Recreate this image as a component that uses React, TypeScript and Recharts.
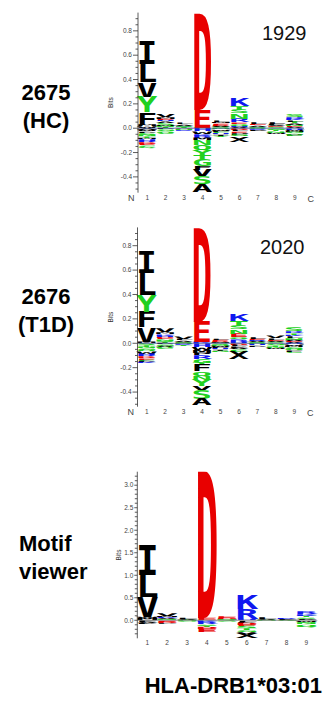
import { BarChart, Bar, XAxis, YAxis, ReferenceLine } from 'recharts';

type Stack = [string, number][];

const positions = ['1', '2', '3', '4', '5', '6', '7', '8', '9'];

// 2675 (HC), 1929 peptides. "up" stacks read from the top of the column down to 0,
// "down" stacks read from 0 downwards. Values in bits.
const hcUp: Stack[] = [
  [['I', 0.19], ['L', 0.15], ['V', 0.12], ['Y', 0.13], ['F', 0.1], ['M', 0.015], ['W', 0.015]],
  [['V', 0.025], ['M', 0.015], ['E', 0.012], ['H', 0.01], ['A', 0.012], ['S', 0.015], ['W', 0.008], ['N', 0.012], ['T', 0.01]],
  [['L', 0.012], ['A', 0.01], ['S', 0.008], ['K', 0.006], ['T', 0.008]],
  [['D', 0.795], ['E', 0.145], ['Q', 0.005]],
  [['L', 0.012], ['M', 0.008], ['E', 0.01], ['D', 0.008], ['A', 0.01], ['G', 0.006], ['S', 0.006]],
  [['K', 0.06], ['T', 0.03], ['S', 0.03], ['N', 0.045], ['R', 0.03], ['E', 0.012], ['Q', 0.015], ['H', 0.01], ['A', 0.01]],
  [['L', 0.015], ['E', 0.008], ['A', 0.01], ['S', 0.008], ['K', 0.005]],
  [['L', 0.015], ['F', 0.01], ['A', 0.008], ['E', 0.006], ['S', 0.01]],
  [['S', 0.025], ['R', 0.015], ['K', 0.01], ['L', 0.012], ['T', 0.015], ['A', 0.012], ['N', 0.012], ['E', 0.008], ['V', 0.008]],
];
const hcDown: Stack[] = [
  [['A', 0.015], ['W', 0.012], ['P', 0.01], ['S', 0.015], ['N', 0.015], ['T', 0.012], ['M', 0.01], ['H', 0.015], ['R', 0.012], ['D', 0.015], ['E', 0.01], ['C', 0.012], ['Q', 0.008]],
  [['P', 0.01], ['G', 0.015], ['Q', 0.012], ['C', 0.008]],
  [['D', 0.005], ['N', 0.008], ['R', 0.006]],
  [['H', 0.025], ['W', 0.02], ['K', 0.015], ['R', 0.02], ['M', 0.02], ['N', 0.04], ['Q', 0.04], ['Y', 0.04], ['T', 0.04], ['G', 0.05], ['F', 0.035], ['V', 0.05], ['S', 0.065], ['A', 0.065]],
  [['N', 0.01], ['W', 0.01], ['P', 0.012], ['C', 0.01], ['H', 0.008], ['I', 0.01], ['Y', 0.01]],
  [['D', 0.015], ['L', 0.012], ['E', 0.01], ['P', 0.015], ['G', 0.015], ['X', 0.045]],
  [['Q', 0.008], ['R', 0.006], ['P', 0.008]],
  [['G', 0.012], ['T', 0.012], ['N', 0.012], ['W', 0.01]],
  [['H', 0.012], ['W', 0.01], ['M', 0.008], ['G', 0.012], ['Q', 0.01], ['F', 0.01], ['C', 0.006]],
];

// 2676 (T1D), 2020 peptides
const t1dUp: Stack[] = [
  [['I', 0.175], ['L', 0.18], ['Y', 0.135], ['F', 0.125], ['V', 0.12], ['M', 0.013]],
  [['V', 0.03], ['M', 0.015], ['K', 0.012], ['H', 0.01], ['D', 0.01], ['E', 0.008], ['N', 0.012], ['S', 0.012], ['T', 0.01]],
  [['V', 0.02], ['L', 0.012], ['A', 0.01], ['S', 0.008], ['E', 0.006]],
  [['D', 0.765], ['E', 0.165], ['K', 0.013]],
  [['L', 0.01], ['E', 0.01], ['D', 0.008], ['M', 0.006], ['A', 0.006]],
  [['K', 0.055], ['T', 0.04], ['S', 0.03], ['N', 0.035], ['E', 0.03], ['Q', 0.015], ['R', 0.02], ['H', 0.013]],
  [['L', 0.015], ['E', 0.01], ['R', 0.008], ['A', 0.01], ['S', 0.008]],
  [['V', 0.02], ['L', 0.012], ['E', 0.008], ['A', 0.01], ['S', 0.01]],
  [['S', 0.03], ['R', 0.015], ['T', 0.012], ['K', 0.01], ['L', 0.015], ['N', 0.015], ['A', 0.012], ['E', 0.008], ['V', 0.01]],
];
const t1dDown: Stack[] = [
  [['S', 0.015], ['T', 0.015], ['N', 0.012], ['G', 0.012], ['Q', 0.01], ['W', 0.02], ['H', 0.012], ['R', 0.012], ['D', 0.015], ['E', 0.012], ['C', 0.01], ['P', 0.01], ['K', 0.01]],
  [['P', 0.01], ['G', 0.012], ['A', 0.01], ['Q', 0.01], ['C', 0.006]],
  [['N', 0.008], ['R', 0.006], ['T', 0.008]],
  [['H', 0.03], ['W', 0.025], ['M', 0.025], ['P', 0.02], ['R', 0.03], ['G', 0.03], ['T', 0.02], ['F', 0.05], ['Q', 0.035], ['N', 0.035], ['Y', 0.05], ['V', 0.035], ['S', 0.07], ['A', 0.05]],
  [['S', 0.012], ['N', 0.01], ['W', 0.01], ['P', 0.01], ['H', 0.008], ['I', 0.01], ['G', 0.01]],
  [['D', 0.012], ['L', 0.012], ['P', 0.012], ['A', 0.012], ['G', 0.02], ['X', 0.065]],
  [['Q', 0.01], ['H', 0.008], ['P', 0.01]],
  [['G', 0.015], ['T', 0.012], ['N', 0.012], ['W', 0.01]],
  [['H', 0.01], ['W', 0.012], ['M', 0.01], ['G', 0.015], ['Q', 0.012], ['F', 0.012], ['C', 0.008]],
];

// Motif viewer, HLA-DRB1*03:01
const viewerUp: Stack[] = [
  [['I', 0.67], ['L', 0.48], ['V', 0.44], ['W', 0.03], ['M', 0.05]],
  [['V', 0.06], ['M', 0.02], ['K', 0.02], ['A', 0.02], ['S', 0.015], ['N', 0.015]],
  [['L', 0.03], ['A', 0.02], ['T', 0.01]],
  [['D', 3.25], ['E', 0.05]],
  [['E', 0.04], ['D', 0.03], ['Q', 0.02], ['M', 0.01]],
  [['K', 0.31], ['R', 0.22], ['H', 0.03]],
  [['L', 0.04], ['A', 0.02], ['S', 0.01]],
  [['R', 0.02], ['L', 0.02], ['A', 0.01]],
  [['R', 0.06], ['K', 0.04], ['T', 0.03], ['S', 0.03], ['L', 0.02], ['A', 0.015]],
];
const viewerDown: Stack[] = [
  [['F', 0.04], ['A', 0.03], ['P', 0.02]],
  [['E', 0.03], ['D', 0.04], ['P', 0.015]],
  [['N', 0.02], ['G', 0.015]],
  [['K', 0.04], ['R', 0.05], ['S', 0.03], ['T', 0.03], ['D', 0.05], ['E', 0.07]],
  [['S', 0.015], ['G', 0.015]],
  [['L', 0.03], ['P', 0.02], ['D', 0.05], ['E', 0.03], ['S', 0.05], ['T', 0.04], ['G', 0.04], ['V', 0.04], ['X', 0.1]],
  [['N', 0.015]],
  [['G', 0.02]],
  [['W', 0.03], ['Y', 0.02], ['N', 0.04], ['Q', 0.05], ['G', 0.015]],
];

const smallTicks = [
  -0.5, -0.45, -0.4, -0.35, -0.3, -0.25, -0.2, -0.15, -0.1, -0.05, 0, 0.05, 0.1, 0.15,
  0.2, 0.25, 0.3, 0.35, 0.4, 0.45, 0.5, 0.55, 0.6, 0.65, 0.7, 0.75, 0.8, 0.85, 0.9,
];
const viewerTicks = [
  -0.3, -0.2, -0.1, 0, 0.1, 0.2, 0.3, 0.4, 0.5, 0.6, 0.7, 0.8, 0.9, 1.0, 1.1, 1.2, 1.3, 1.4,
  1.5, 1.6, 1.7, 1.8, 1.9, 2.0, 2.1, 2.2, 2.3, 2.4, 2.5, 2.6, 2.7, 2.8, 2.9, 3.0, 3.1, 3.2,
];

const BLACK = '#000000';
const GREEN = '#20d020';
const BLUE = '#1018f0';
const RED = '#e80000';
const LETTER_COLOR: Record<string, string> = {
  A: BLACK, C: GREEN, F: BLACK, I: BLACK, L: BLACK, M: BLACK, P: BLACK, V: BLACK, W: BLACK, X: BLACK,
  G: GREEN, N: GREEN, Q: GREEN, S: GREEN, T: GREEN, Y: GREEN,
  H: BLUE, K: BLUE, R: BLUE,
  D: RED, E: RED,
};

const SANS = "'Liberation Sans', Arial, sans-serif";
const LOGO_FONT = "'DejaVu Sans Mono', monospace";
const CAP = 0.729; // cap height of the logo font, in em
const X_AXIS_H = 14;

function buildRows(up: Stack[], down: Stack[], nUp: number, nDown: number) {
  return positions.map((pos, i) => {
    const row: Record<string, string | number> = { pos };
    const u = [...up[i]].reverse();
    for (let k = 0; k < nUp; k++) {
      row[`u${k}`] = u[k] ? u[k][1] : 0;
      row[`u${k}L`] = u[k] ? u[k][0] : '';
    }
    for (let k = 0; k < nDown; k++) {
      const d = down[i][k];
      row[`d${k}`] = d ? -d[1] : 0;
      row[`d${k}L`] = d ? d[0] : '';
    }
    return row;
  });
}

// draws the letter of one stack slot stretched into the bar rectangle
function letterShape(key: string) {
  return (props: any) => {
    const { x, y, width, height, payload } = props;
    const letter = payload ? payload[`${key}L`] : '';
    const h = Math.abs(height || 0);
    if (!letter || h < 0.15) return <g />;
    const top = Math.min(y, y + height);
    const F = 10;
    return (
      <g transform={`translate(${x} ${top + h}) scale(1 ${h / (CAP * F)})`}>
        <text
          x={-width * 0.07}
          y={0}
          fontSize={F}
          fontFamily={LOGO_FONT}
          fontWeight='bold'
          fill={LETTER_COLOR[letter]}
          textLength={width * 1.14}
          lengthAdjust='spacingAndGlyphs'
        >
          {letter}
        </text>
      </g>
    );
  };
}

function makeYTick(step: number, gap: number) {
  return (props: any) => {
    const { x, y, payload } = props;
    const v = payload.value as number;
    const major = Math.abs(v / step - Math.round(v / step)) < 1e-6;
    return (
      <g>
        <line x1={x - (major ? gap - 1 : 2.5)} x2={x} y1={y} y2={y} stroke='#333' strokeWidth={0.8} />
        {major && (
          <text x={x - gap} y={y} dy='0.35em' textAnchor='end' fontSize={6.5} fill='#444' fontFamily={SANS}>
            {v.toFixed(1)}
          </text>
        )}
      </g>
    );
  };
}

function makeXTick(ends: boolean) {
  return (props: any) => {
    const { x, y, payload } = props;
    const v = payload.value as string;
    return (
      <g>
        <text x={x} y={y + 7} textAnchor='middle' fontSize={6.5} fill='#444' fontFamily={SANS}>
          {v}
        </text>
        {ends && v === positions[0] && (
          <text x={x - 16} y={y + 8} textAnchor='middle' fontSize={9} fill='#444' fontFamily={SANS}>
            N
          </text>
        )}
        {ends && v === positions[positions.length - 1] && (
          <text x={x + 16} y={y + 9} textAnchor='middle' fontSize={9} fill='#444' fontFamily={SANS}>
            C
          </text>
        )}
      </g>
    );
  };
}

interface PanelProps {
  up: Stack[];
  down: Stack[];
  top: number;
  height: number;
  plotTop: number;
  plotBottom: number;
  plotLeft: number;
  plotRight: number;
  axisWidth: number;
  bitsX: number;
  tickGap: number;
  domain: [number, number];
  ticks: number[];
  step: number;
  ends: boolean;
  zeroColor: string;
}

function LogoPanel(p: PanelProps) {
  const nUp = Math.max(...p.up.map((s) => s.length));
  const nDown = Math.max(...p.down.map((s) => s.length));
  const rows = buildRows(p.up, p.down, nUp, nDown);
  const upKeys = Array.from({ length: nUp }, (_, k) => `u${k}`);
  const downKeys = Array.from({ length: nDown }, (_, k) => `d${k}`);

  return (
    <div style={{ position: 'absolute', left: 0, top: p.top, width: 327, height: p.height }}>
      <BarChart
        width={327}
        height={p.height}
        data={rows}
        stackOffset='sign'
        barCategoryGap={0}
        barGap={0}
        margin={{
          top: p.plotTop - p.top,
          bottom: p.top + p.height - p.plotBottom - X_AXIS_H,
          left: p.plotLeft - p.axisWidth,
          right: 327 - p.plotRight,
        }}
      >
        <XAxis
          dataKey='pos'
          height={X_AXIS_H}
          axisLine={false}
          tickLine={false}
          tickSize={0}
          tickMargin={0}
          interval={0}
          tick={makeXTick(p.ends)}
        />
        <YAxis
          type='number'
          width={p.axisWidth}
          domain={p.domain}
          ticks={p.ticks}
          interval={0}
          allowDataOverflow
          axisLine={{ stroke: '#333', strokeWidth: 0.8 }}
          tickLine={false}
          tickSize={0}
          tickMargin={0}
          tick={makeYTick(p.step, p.tickGap)}
          label={{
            position: 'insideLeft',
            content: (lp: any) => {
              const vb = lp.viewBox || {};
              const cx = p.bitsX;
              const cy = vb.y + vb.height / 2;
              return (
                <text
                  x={cx}
                  y={cy}
                  transform={`rotate(-90 ${cx} ${cy})`}
                  textAnchor='middle'
                  dominantBaseline='central'
                  fontSize={6.5}
                  fill='#333'
                  fontFamily={SANS}
                >
                  Bits
                </text>
              );
            },
          }}
        />
        {upKeys.map((k) => (
          <Bar key={k} dataKey={k} stackId='s' shape={letterShape(k)} isAnimationActive={false} />
        ))}
        {downKeys.map((k) => (
          <Bar key={k} dataKey={k} stackId='s' shape={letterShape(k)} isAnimationActive={false} />
        ))}
        <ReferenceLine y={0} stroke={p.zeroColor} strokeWidth={0.8} />
      </BarChart>
    </div>
  );
}

const sideLabel: React.CSSProperties = {
  position: 'absolute',
  fontFamily: SANS,
  fontWeight: 'bold',
  fontSize: 22,
  lineHeight: '28px',
  textAlign: 'center',
  color: '#000',
};

export default function App() {
  return (
    <div style={{ position: 'absolute', left: 0, top: 0, width: 327, height: 707, background: '#fff', overflow: 'hidden' }}>
      <LogoPanel
        up={hcUp}
        down={hcDown}
        top={0}
        height={210}
        plotTop={12.6}
        plotBottom={192.7}
        plotLeft={138}
        plotRight={304}
        axisWidth={30}
        bitsX={111}
        tickGap={6}
        domain={[-0.53, 0.95]}
        ticks={smallTicks}
        step={0.2}
        ends
        zeroColor='#3c4e90'
      />
      <LogoPanel
        up={t1dUp}
        down={t1dDown}
        top={215}
        height={210}
        plotTop={227.4}
        plotBottom={406.7}
        plotLeft={137.5}
        plotRight={303.5}
        axisWidth={30}
        bitsX={110.5}
        tickGap={6}
        domain={[-0.52, 0.95]}
        ticks={smallTicks}
        step={0.2}
        ends
        zeroColor='#3c4e90'
      />
      <LogoPanel
        up={viewerUp}
        down={viewerDown}
        top={440}
        height={215}
        plotTop={471.7}
        plotBottom={638.3}
        plotLeft={137.3}
        plotRight={316.3}
        axisWidth={22}
        bitsX={118.5}
        tickGap={4}
        domain={[-0.4, 3.3]}
        ticks={viewerTicks}
        step={0.5}
        ends={false}
        zeroColor='#777'
      />

      <div style={{ ...sideLabel, left: 6, top: 79, width: 80 }}>
        2675
        <br />
        (HC)
      </div>
      <div style={{ ...sideLabel, left: 6, top: 283, width: 80 }}>
        2676
        <br />
        (T1D)
      </div>
      <div style={{ ...sideLabel, left: 19, top: 530, textAlign: 'left' }}>
        Motif
        <br />
        viewer
      </div>

      <div style={{ position: 'absolute', left: 262, top: 22, fontFamily: SANS, fontSize: 20, color: '#111' }}>1929</div>
      <div style={{ position: 'absolute', left: 260, top: 236, fontFamily: SANS, fontSize: 20, color: '#111' }}>2020</div>

      <div
        style={{
          position: 'absolute',
          right: 5,
          bottom: 8,
          fontFamily: SANS,
          fontWeight: 'bold',
          fontSize: 22,
          lineHeight: '26px',
          color: '#000',
        }}
      >
        HLA-DRB1*03:01
      </div>
    </div>
  );
}
